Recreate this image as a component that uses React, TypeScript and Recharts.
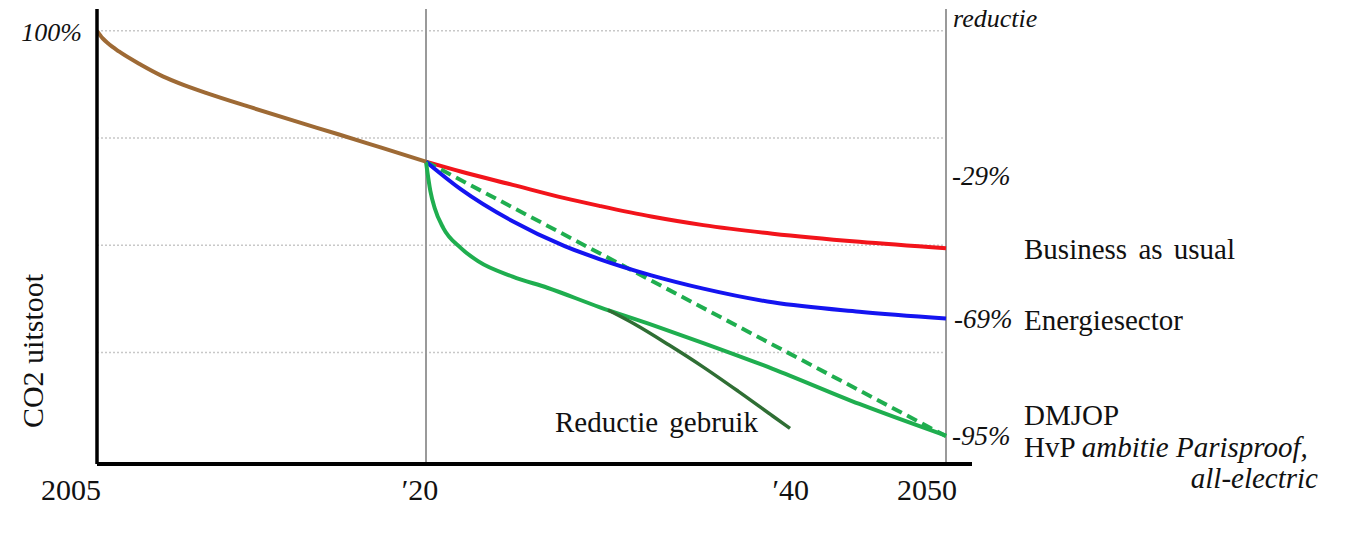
import React from 'react';
import { LineChart, Line, XAxis, YAxis, ReferenceLine } from 'recharts';

// CO2-uitstoot (index, 2005 = 100)
const historyYears = [2005, 2005.25, 2005.5, 2006, 2007, 2008, 2009, 2010, 2012, 2014, 2016, 2018, 2020];
const historyValues = [100, 98.3, 97.1, 95.2, 92.1, 89.4, 87.3, 85.5, 82.2, 79.0, 75.9, 72.7, 69.5];

const scenarioYears = [2020, 2022, 2025, 2028, 2030, 2033, 2036, 2040, 2045, 2050];
const businessAsUsual = [69.5, 67.2, 64.1, 61.0, 59.2, 56.7, 54.7, 52.7, 50.8, 49.3];
const energiesector = [69.5, 63.1, 55.6, 49.8, 46.8, 43.0, 39.9, 36.7, 34.5, 32.9];

const dmjopYears = [2020, 2020.25, 2020.5, 2021, 2022, 2023, 2025, 2027, 2030, 2033, 2036, 2040, 2045, 2050];
const dmjopValues = [69.5, 62.7, 58.7, 54.0, 49.4, 46.3, 42.7, 40.1, 35.6, 31.5, 27.2, 21.2, 13.0, 5.6];

const parisproofYears = [2020, 2050];
const parisproofValues = [69.5, 5.5];

const gebruikYears = [2030.5, 2032, 2034, 2036, 2038, 2040, 2041];
const gebruikValues = [34.9, 31.7, 26.8, 21.6, 16.0, 10.2, 7.3];

const gridLevels = [25, 50, 75, 100];
const xTickYears = [2005, 2020, 2040, 2050];
const xTickLabels = ['2005', '\u203220', '\u203240', '2050'];
const xTickNudge = [-26, -6, 18, -19];

const FONT = "'Liberation Serif', 'Times New Roman', Times, serif";

// the time axis is drawn wider per year before 2020 than after it
const EARLY_PX = 329;
const LATE_PX = 520;
const pos = (year: number) =>
  year <= 2020 ? ((year - 2005) * EARLY_PX) / 15 : EARLY_PX + ((year - 2020) * LATE_PX) / 30;

const toPoints = (years: number[], values: number[]) =>
  years.map((year, i) => ({ x: pos(year), v: values[i] }));

const xTicks = xTickYears.map(pos);

const YearTick = (props: any) => {
  const { x, y, payload } = props;
  const i = xTicks.findIndex(t => Math.abs(t - payload.value) < 0.01);
  if (i < 0) return null;
  return (
    <text x={x + xTickNudge[i]} y={y + 28} textAnchor="middle" fontFamily={FONT} fontSize={30} fill="#111">
      {xTickLabels[i]}
    </text>
  );
};

const PercentTick = (props: any) => {
  const { x, y } = props;
  return (
    <text x={x - 7} y={y + 10} textAnchor="end" fontFamily={FONT} fontStyle="italic" fontSize={26} fill="#111">
      100%
    </text>
  );
};

const lineProps = {
  type: 'monotone' as const,
  dataKey: 'v',
  dot: false,
  activeDot: false,
  strokeWidth: 4,
  isAnimationActive: false,
};

export default function App() {
  return (
    <div style={{ position: 'absolute', left: 0, top: 0, width: 1360, height: 540, background: '#fff' }}>
      <LineChart width={1360} height={540} margin={{ top: 9, right: 388, bottom: 26, left: 37 }}>
        {gridLevels.map(level => (
          <ReferenceLine
            key={level}
            segment={[{ x: 0, y: level }, { x: pos(2050), y: level }]}
            stroke="#c8c8c8"
            strokeWidth={1.5}
            strokeDasharray="2 2"
          />
        ))}
        <ReferenceLine x={pos(2020)} stroke="#9a9a9a" strokeWidth={2} />
        <ReferenceLine x={pos(2050)} stroke="#9a9a9a" strokeWidth={2} />
        <XAxis
          type="number"
          dataKey="x"
          domain={[0, 875]}
          ticks={xTicks}
          interval={0}
          allowDataOverflow
          height={50}
          axisLine={{ stroke: '#000', strokeWidth: 4 }}
          tickLine={false}
          tick={<YearTick />}
        />
        <YAxis
          type="number"
          domain={[-1, 105.1]}
          ticks={[100]}
          allowDataOverflow
          width={60}
          axisLine={{ stroke: '#000', strokeWidth: 3.5 }}
          tickLine={false}
          tick={<PercentTick />}
        />
        <Line {...lineProps} data={toPoints(scenarioYears, businessAsUsual)} stroke="#f2141b" />
        <Line
          {...lineProps}
          type="linear"
          data={toPoints(parisproofYears, parisproofValues)}
          stroke="#1fae4f"
          strokeDasharray="11 6"
        />
        <Line {...lineProps} data={toPoints(scenarioYears, energiesector)} stroke="#1414f0" />
        <Line {...lineProps} data={toPoints(dmjopYears, dmjopValues)} stroke="#1fae4f" />
        <Line {...lineProps} data={toPoints(gebruikYears, gebruikValues)} stroke="#2f6e34" strokeWidth={3.5} />
        <Line {...lineProps} data={toPoints(historyYears, historyValues)} stroke="#9e6a35" />
      </LineChart>

      <svg
        width={1360}
        height={540}
        style={{ position: 'absolute', left: 0, top: 0, pointerEvents: 'none' }}
        fontFamily={FONT}
        fill="#111"
      >
        <text transform="translate(43 351) rotate(-90)" textAnchor="middle" fontSize={30}>
          CO2 uitstoot
        </text>
        <text x={953} y={27} fontSize={26} fontStyle="italic">reductie</text>
        <text x={952} y={185} fontSize={27} fontStyle="italic">-29%</text>
        <text x={954} y={328} fontSize={27} fontStyle="italic">-69%</text>
        <text x={952} y={445} fontSize={27} fontStyle="italic">-95%</text>
        <text x={1024} y={259} fontSize={29} wordSpacing={4}>Business as usual</text>
        <text x={1024} y={330} fontSize={29}>Energiesector</text>
        <text x={1024} y={425} fontSize={29}>DMJOP</text>
        <text x={1024} y={457} fontSize={29}>
          HvP <tspan fontStyle="italic">ambitie Parisproof,</tspan>
        </text>
        <text x={1318} y={488} fontSize={29} fontStyle="italic" textAnchor="end">all-electric</text>
        <text x={555} y={432} fontSize={29} wordSpacing={4}>Reductie gebruik</text>
      </svg>
    </div>
  );
}
